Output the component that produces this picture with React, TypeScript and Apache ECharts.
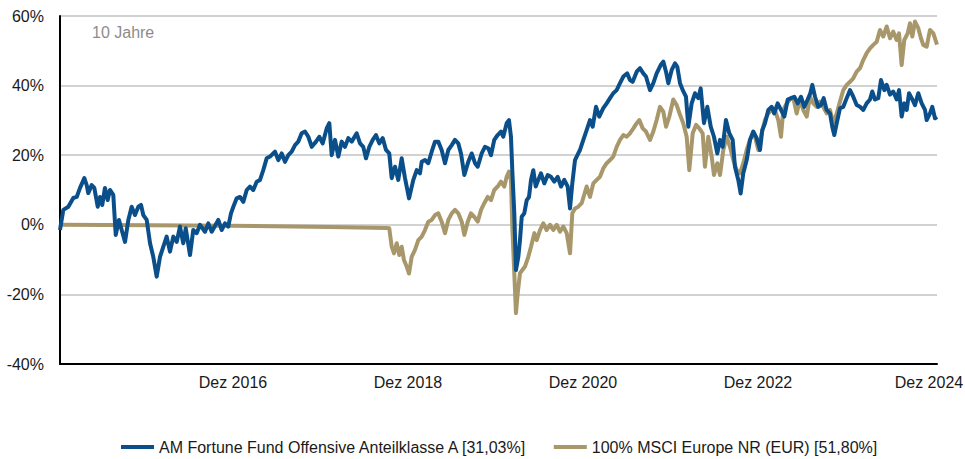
import React, { useEffect, useRef } from "react";
import * as echarts from "echarts";

// Decimal years (time) and cumulative performance in %
const fundDates = [
  2014.940, 2014.978, 2015.035, 2015.092, 2015.131, 2015.169, 2015.218, 2015.245, 2015.263, 2015.302,
  2015.332, 2015.371, 2015.397, 2015.423, 2015.454, 2015.485, 2015.511, 2015.549, 2015.577, 2015.614,
  2015.645, 2015.683, 2015.721, 2015.759, 2015.797, 2015.835, 2015.866, 2015.892, 2015.931, 2015.969,
  2016.006, 2016.045, 2016.083, 2016.121, 2016.159, 2016.197, 2016.235, 2016.274, 2016.311, 2016.349,
  2016.377, 2016.426, 2016.463, 2016.502, 2016.540, 2016.597, 2016.635, 2016.674, 2016.749, 2016.788,
  2016.826, 2016.863, 2016.894, 2016.921, 2016.959, 2016.997, 2017.035, 2017.074, 2017.111, 2017.149,
  2017.188, 2017.226, 2017.263, 2017.302, 2017.340, 2017.397, 2017.435, 2017.474, 2017.511, 2017.549,
  2017.588, 2017.626, 2017.663, 2017.702, 2017.740, 2017.778, 2017.817, 2017.866, 2017.903, 2017.942,
  2017.988, 2018.018, 2018.045, 2018.083, 2018.121, 2018.159, 2018.197, 2018.235, 2018.274, 2018.331,
  2018.369, 2018.406, 2018.437, 2018.475, 2018.514, 2018.551, 2018.589, 2018.628, 2018.666, 2018.703,
  2018.731, 2018.769, 2018.806, 2018.845, 2018.883, 2018.929, 2018.978, 2019.017, 2019.054, 2019.074,
  2019.111, 2019.149, 2019.188, 2019.226, 2019.263, 2019.302, 2019.340, 2019.378, 2019.417, 2019.454,
  2019.492, 2019.523, 2019.561, 2019.606, 2019.645, 2019.683, 2019.714, 2019.759, 2019.797, 2019.835,
  2019.866, 2019.903, 2019.942, 2019.980, 2020.006, 2020.045, 2020.071, 2020.094, 2020.109, 2020.132,
  2020.151, 2020.178, 2020.197, 2020.217, 2020.246, 2020.274, 2020.300, 2020.323, 2020.349, 2020.377,
  2020.406, 2020.437, 2020.475, 2020.514, 2020.551, 2020.589, 2020.628, 2020.666, 2020.703, 2020.742,
  2020.769, 2020.795, 2020.826, 2020.863, 2020.883, 2020.921, 2020.959, 2020.997, 2021.028, 2021.066,
  2021.103, 2021.149, 2021.188, 2021.226, 2021.263, 2021.302, 2021.340, 2021.378, 2021.423, 2021.454,
  2021.485, 2021.531, 2021.569, 2021.606, 2021.637, 2021.683, 2021.721, 2021.759, 2021.805, 2021.835,
  2021.866, 2021.892, 2021.931, 2021.969, 2021.995, 2022.026, 2022.057, 2022.094, 2022.121, 2022.159,
  2022.197, 2022.235, 2022.262, 2022.300, 2022.338, 2022.377, 2022.414, 2022.452, 2022.483, 2022.514,
  2022.551, 2022.589, 2022.628, 2022.654, 2022.692, 2022.719, 2022.749, 2022.788, 2022.826, 2022.863,
  2022.902, 2022.940, 2022.966, 2022.997, 2023.035, 2023.074, 2023.103, 2023.142, 2023.180, 2023.218,
  2023.257, 2023.294, 2023.332, 2023.371, 2023.409, 2023.446, 2023.485, 2023.515, 2023.538, 2023.569,
  2023.606, 2023.637, 2023.668, 2023.702, 2023.740, 2023.766, 2023.789, 2023.817, 2023.854, 2023.892,
  2023.931, 2023.969, 2024.006, 2024.045, 2024.083, 2024.121, 2024.159, 2024.197, 2024.223, 2024.254,
  2024.292, 2024.323, 2024.361, 2024.388, 2024.426, 2024.463, 2024.502, 2024.529, 2024.559, 2024.589,
  2024.617, 2024.643, 2024.681, 2024.711, 2024.749, 2024.788, 2024.826, 2024.845, 2024.883, 2024.909,
  2024.940, 2024.963,
];
const fundValues = [
  -1.5, 4.3, 5.2, 7.7, 8.0, 10.6, 13.4, 11.4, 9.1, 11.4,
  10.6, 5.2, 8.0, 5.7, 10.6, 7.1, 10.0, 8.6, -2.9, 1.4,
  -1.5, -4.9, 1.4, 5.2, 2.8, 5.2, 5.7, 2.8, 1.4, -5.3,
  -9.2, -14.9, -9.2, -6.3, -3.4, -7.7, -3.4, -4.9, -0.5, -5.3,
  -1.0, -8.7, -1.5, -2.4, 0.0, -2.0, 0.4, -2.0, 1.4, -1.5,
  0.4, -0.5, 3.3, 5.2, 7.6, 8.0, 6.6, 10.0, 11.0, 10.0,
  12.4, 12.9, 15.7, 19.1, 19.6, 21.0, 18.6, 20.5, 18.1, 20.0,
  21.0, 22.9, 23.9, 26.3, 26.8, 25.3, 22.4, 23.9, 25.3, 23.4,
  27.7, 29.2, 20.0, 24.4, 19.6, 23.9, 22.4, 24.9, 23.9, 26.3,
  23.4, 22.4, 19.1, 22.4, 24.4, 25.8, 23.4, 24.9, 21.5, 20.5,
  13.4, 16.7, 12.9, 19.1, 13.4, 7.6, 12.9, 15.7, 14.8, 18.1,
  18.6, 17.7, 21.0, 23.9, 23.9, 21.5, 17.7, 21.5, 22.9, 24.4,
  23.4, 20.5, 14.3, 18.1, 20.5, 17.7, 16.7, 20.5, 22.4, 22.0,
  20.0, 24.4, 25.8, 26.8, 25.3, 29.2, 30.1, 25.3, 15.7, 3.3,
  -13.0, -9.2, -4.4, 2.3, 3.3, 7.1, 8.0, 12.9, 15.7, 11.0,
  12.9, 14.8, 11.9, 14.3, 13.8, 12.4, 13.8, 11.0, 12.9, 11.0,
  4.7, 11.9, 18.6, 20.5, 21.5, 24.4, 27.2, 30.1, 28.2, 33.9,
  31.1, 33.5, 34.9, 36.4, 37.8, 38.7, 40.7, 42.6, 43.5, 41.6,
  41.1, 44.0, 45.0, 43.5, 42.6, 38.7, 40.7, 43.5, 45.9, 46.9,
  44.0, 40.7, 44.5, 46.4, 45.4, 40.7, 38.7, 36.8, 28.2, 34.9,
  37.8, 36.4, 39.2, 29.2, 33.9, 28.2, 25.3, 20.5, 24.4, 22.4,
  30.1, 26.3, 24.4, 16.7, 12.9, 9.0, 14.8, 18.6, 24.4, 26.8,
  24.9, 21.5, 27.2, 29.2, 33.0, 33.9, 32.0, 34.9, 33.0, 31.1,
  36.0, 36.4, 36.8, 34.9, 36.8, 33.9, 36.0, 37.8, 40.2, 36.8,
  33.9, 34.4, 36.4, 33.0, 32.0, 28.2, 25.8, 29.2, 33.5, 33.9,
  36.4, 38.7, 36.8, 34.4, 33.9, 33.0, 34.9, 36.0, 38.3, 36.0,
  36.4, 41.6, 38.7, 40.2, 37.4, 38.3, 36.0, 38.7, 31.1, 34.9,
  33.0, 37.8, 36.0, 34.4, 37.8, 34.9, 33.0, 30.1, 32.0, 33.9,
  30.6, 31.03,
];

const benchDates = [
  2014.940, 2015.969, 2016.883, 2018.026, 2018.674, 2018.703, 2018.731, 2018.757, 2018.788, 2018.818,
  2018.845, 2018.871, 2018.902, 2018.929, 2018.959, 2018.997, 2019.035, 2019.074, 2019.111, 2019.149,
  2019.188, 2019.226, 2019.263, 2019.302, 2019.340, 2019.378, 2019.417, 2019.454, 2019.492, 2019.531,
  2019.561, 2019.600, 2019.637, 2019.675, 2019.714, 2019.752, 2019.789, 2019.828, 2019.866, 2019.903,
  2019.942, 2019.980, 2020.018, 2020.045, 2020.071, 2020.094, 2020.109, 2020.132, 2020.151, 2020.171,
  2020.197, 2020.224, 2020.254, 2020.292, 2020.323, 2020.361, 2020.388, 2020.426, 2020.463, 2020.502,
  2020.540, 2020.578, 2020.617, 2020.654, 2020.692, 2020.731, 2020.769, 2020.795, 2020.826, 2020.863,
  2020.902, 2020.959, 2020.997, 2021.035, 2021.074, 2021.111, 2021.149, 2021.188, 2021.226, 2021.263,
  2021.302, 2021.340, 2021.378, 2021.417, 2021.454, 2021.493, 2021.531, 2021.561, 2021.600, 2021.637,
  2021.683, 2021.721, 2021.759, 2021.797, 2021.835, 2021.866, 2021.904, 2021.949, 2021.988, 2022.026,
  2022.063, 2022.102, 2022.132, 2022.171, 2022.209, 2022.246, 2022.285, 2022.311, 2022.349, 2022.388,
  2022.414, 2022.452, 2022.483, 2022.521, 2022.559, 2022.597, 2022.635, 2022.674, 2022.711, 2022.749,
  2022.788, 2022.826, 2022.863, 2022.883, 2022.921, 2022.959, 2022.997, 2023.035, 2023.074, 2023.111,
  2023.149, 2023.180, 2023.206, 2023.245, 2023.283, 2023.321, 2023.359, 2023.397, 2023.435, 2023.474,
  2023.511, 2023.549, 2023.588, 2023.626, 2023.663, 2023.702, 2023.740, 2023.778, 2023.817, 2023.854,
  2023.892, 2023.931, 2023.969, 2024.006, 2024.045, 2024.083, 2024.121, 2024.159, 2024.197, 2024.235,
  2024.274, 2024.311, 2024.349, 2024.388, 2024.426, 2024.463, 2024.502, 2024.529, 2024.559, 2024.589,
  2024.628, 2024.654, 2024.681, 2024.711, 2024.749, 2024.780, 2024.806, 2024.845, 2024.883, 2024.921,
  2024.963,
];
const benchValues = [
  0.0, -0.1, -0.3, -0.6, -0.9, -1.0, -6.3, -8.2, -5.3, -8.7,
  -6.3, -10.1, -12.0, -14.0, -9.2, -7.2, -4.4, -3.4, -1.5, 0.9,
  1.4, 2.8, 3.3, 0.9, -2.4, 1.4, 3.3, 4.3, 3.3, 0.9,
  -2.9, 0.9, 3.3, 2.3, 0.9, 4.3, 6.2, 8.0, 7.1, 10.0,
  11.0, 12.4, 11.0, 13.8, 15.3, 12.9, -0.5, -13.9, -25.4, -19.7,
  -13.9, -13.0, -12.0, -9.2, -6.3, -2.4, -4.4, -1.5, 0.4, -1.5,
  0.0, -1.5, 0.0, -2.0, -0.5, -2.4, -8.2, 3.3, 4.7, 5.2,
  6.2, 11.0, 8.0, 11.9, 12.9, 13.8, 16.2, 17.7, 18.6, 19.6,
  22.4, 24.4, 25.8, 25.3, 26.3, 27.7, 29.2, 30.1, 27.7, 26.8,
  24.4, 26.8, 30.1, 33.9, 32.5, 28.2, 31.1, 36.0, 34.4, 31.6,
  29.2, 25.3, 15.7, 26.3, 28.7, 27.7, 26.3, 16.7, 25.3, 19.6,
  14.3, 17.7, 14.3, 21.5, 25.3, 22.4, 18.6, 15.7, 14.8, 17.7,
  21.5, 24.4, 26.3, 25.3, 21.5, 26.3, 30.1, 32.0, 33.0, 33.0,
  30.1, 25.3, 33.0, 34.9, 36.0, 36.4, 32.0, 36.0, 33.0, 31.1,
  36.8, 34.9, 33.9, 35.4, 33.9, 32.0, 33.0, 29.2, 32.0, 35.4,
  38.7, 40.2, 41.1, 42.1, 44.0, 45.0, 47.4, 49.3, 50.7, 51.7,
  52.6, 56.0, 54.1, 57.0, 53.6, 55.5, 53.1, 55.0, 45.9, 53.1,
  55.0, 57.9, 54.1, 58.4, 56.5, 53.6, 51.7, 51.2, 56.0, 55.0,
  51.8,
];

const seriesNames = [
  "AM Fortune Fund Offensive Anteilklasse A [31,03%]",
  "100% MSCI Europe NR (EUR) [51,80%]",
];
const yTicks = [-40, -20, 0, 20, 40, 60];
const xTickYears = [2016, 2018, 2020, 2022, 2024];
const periodLabel = "10 Jahre";

const BLUE = "#0a4f8a";
const GOLD = "#a8976a";
const FONT = "'Liberation Sans', Arial, sans-serif";

export default function App() {
  const ref = useRef<HTMLDivElement>(null);

  useEffect(() => {
    if (!ref.current) return;
    const chart = echarts.init(ref.current, null, { renderer: "svg" });
    const fundData = fundDates.map((d, i) => [d, fundValues[i]]);
    const benchData = benchDates.map((d, i) => [d, benchValues[i]]);
    const decTicks = xTickYears.map((y) => y + 11 / 12);
    const lastYear = xTickYears[xTickYears.length - 1];
    const labelStyle = { fontSize: 16, color: "#1a1a1a", fontFamily: FONT };

    chart.setOption({
      animation: false,
      backgroundColor: "#ffffff",
      textStyle: { fontFamily: FONT },
      grid: {
        left: 60,
        right: 28,
        top: 16,
        bottom: 95,
        containLabel: false,
        outerBoundsMode: "none",
      },
      graphic: [
        {
          type: "text",
          left: 92,
          top: 24,
          style: { text: periodLabel, fill: "#8c8c8c", font: `16px ${FONT}` },
        },
      ],
      legend: {
        top: 434,
        left: 116,
        icon: "rect",
        itemWidth: 33,
        itemHeight: 4,
        itemGap: 26,
        textStyle: { fontSize: 16, color: "#1a1a1a", fontFamily: FONT },
        data: seriesNames,
      },
      xAxis: {
        type: "value",
        min: 2014.94,
        max: 2024.963,
        axisLine: { show: true, onZero: false, lineStyle: { color: "#000", width: 2 } },
        axisTick: { show: false },
        splitLine: { show: false },
        axisLabel: {
          customValues: decTicks,
          margin: 10,
          ...labelStyle,
          formatter: (v: number) => {
            const y = Math.floor(v);
            return y === lastYear ? "{last|Dez " + y + "}" : "Dez " + y;
          },
          rich: {
            last: { ...labelStyle, padding: [0, 8, 0, 0] },
          },
        },
      },
      yAxis: {
        type: "value",
        min: yTicks[0],
        max: yTicks[yTicks.length - 1],
        interval: 20,
        axisLine: { show: true, lineStyle: { color: "#000", width: 2 } },
        axisTick: { show: false },
        splitLine: { show: true, lineStyle: { color: "#d2d2d2", width: 2 } },
        axisLabel: {
          margin: 16,
          ...labelStyle,
          formatter: (v: number) => v + "%",
        },
      },
      series: [
        {
          name: seriesNames[0],
          type: "line",
          data: fundData,
          showSymbol: false,
          symbol: "none",
          z: 3,
          lineStyle: { color: BLUE, width: 4, join: "round" },
          itemStyle: { color: BLUE },
        },
        {
          name: seriesNames[1],
          type: "line",
          data: benchData,
          showSymbol: false,
          symbol: "none",
          z: 2,
          lineStyle: { color: GOLD, width: 4, join: "round" },
          itemStyle: { color: GOLD },
        },
      ],
    });
    return () => chart.dispose();
  }, []);

  return (
    <div
      ref={ref}
      style={{ position: "fixed", left: 0, top: 0, width: 965, height: 459, background: "#fff" }}
    />
  );
}
